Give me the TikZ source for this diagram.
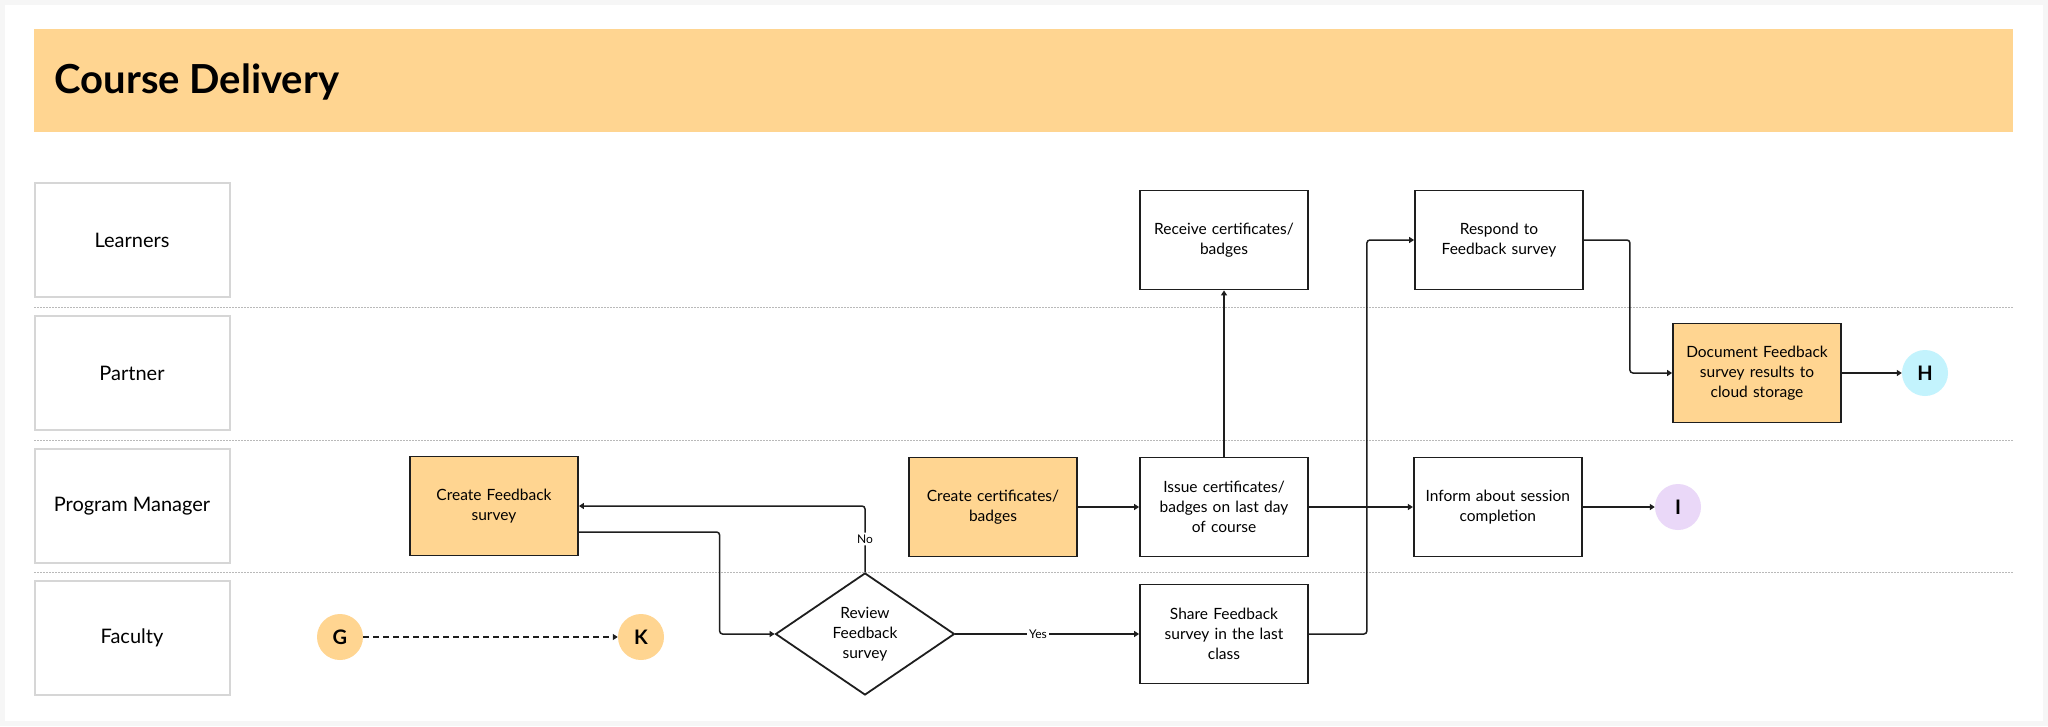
\documentclass[tikz,border=0pt]{standalone}
\usepackage{fontspec}
\setmainfont{Lato}
\usetikzlibrary{arrows.meta, positioning, shapes.geometric, calc}

\definecolor{sheetGray}{HTML}{F6F6F6}
\definecolor{laneGray}{HTML}{D6D6D6}
\definecolor{prepOrange}{HTML}{FFD591}
\definecolor{endCyan}{HTML}{C3F3FD}
\definecolor{endLilac}{HTML}{EAD8F8}
\definecolor{inkBlack}{HTML}{1E1E1E}

\begin{document}
\begin{tikzpicture}[
        x=1pt, y=-1pt,
        laneBox/.style={
            draw=laneGray,
            line width=2pt,
            minimum width=195pt,
            minimum height=114pt,
            font=\fontsize{20}{24}\selectfont
        },
        taskBox/.style={
            draw=inkBlack,
            fill=white,
            line width=1.8pt,
            minimum width=168pt,
            minimum height=99pt,
            text width=154pt,
            align=center,
            font=\fontsize{15.5}{20}\selectfont
        },
        prepBox/.style={
            taskBox,
            fill=prepOrange
        },
        decisionBox/.style={
            diamond,
            draw=inkBlack,
            fill=white,
            line width=1.8pt,
            aspect=1.47,
            inner sep=0pt,
            minimum width=179pt,
            minimum height=122pt,
            align=center,
            font=\fontsize{15.5}{20}\selectfont
        },
        endPoint/.style={
            circle,
            minimum size=46pt,
            inner sep=0pt,
            font=\fontsize{20}{24}\selectfont\bfseries
        },
        flow/.style={
            -{Triangle[length=5pt, width=6pt]},
            line width=1.5pt,
            draw=inkBlack,
            rounded corners=3pt
        },
        answer/.style={
            fill=white,
            inner sep=2pt,
            font=\fontsize{12}{14}\selectfont
        },
        laneRule/.style={
            draw=gray!55,
            line width=1pt,
            dash pattern=on 1.5pt off 1.5pt
        }
    ]

        % Sheet and margins
        \useasboundingbox (0,0) rectangle (2048,726);
        \fill[sheetGray] (0,0) rectangle (2048,726);
        \fill[white] (5,5) rectangle (2043,721);

        % Title bar
        \fill[prepOrange] (34,29) rectangle (2013,132);
        \node[anchor=west, font=\fontsize{40}{48}\selectfont\bfseries]
            (title) at (51,82) {Course Delivery};

        % Lanes
        \node[laneBox] (learners) at (132,240) {Learners};
        \node[laneBox] (partner) at (132,373) {Partner};
        \node[laneBox] (manager) at (132,506) {Program Manager};
        \node[laneBox] (faculty) at (132,638) {Faculty};

        \foreach \rule in {307,440,572}
        {
            \draw[laneRule] (34,\rule) -- (2013,\rule);
        }

        % Program Manager lane
        \node[prepBox] (createSurvey) at (494,506) {Create Feedback\\survey};
        \node[prepBox] (createCerts) at (993,507) {Create certificates/\\badges};
        \node[taskBox] (issueCerts) at (1224,507) {Issue certificates/\\badges on last day\\of course};
        \node[taskBox, right=104pt of issueCerts] (inform) {Inform about session\\completion};
        \node[endPoint, fill=endLilac] (endI) at (1678,507) {I};

        % Learners lane
        \node[taskBox] (receiveCerts) at (1224,240) {Receive certificates/\\badges};
        \node[taskBox] (respond) at (1499,240) {Respond to\\Feedback survey};

        % Partner lane
        \node[prepBox] (document) at (1757,373) {Document Feedback\\survey results to\\cloud storage};
        \node[endPoint, fill=endCyan] (endH) at (1925,373) {H};

        % Faculty lane
        \node[endPoint, fill=prepOrange] (startG) at (340,637) {G};
        \node[endPoint, fill=prepOrange] (startK) at (641,637) {K};
        \node[decisionBox] (review) at (865,634) {Review\\Feedback\\survey};
        \node[taskBox] (share) at (1224,634) {Share Feedback\\survey in the last\\class};

        % Connectors
        \draw[flow, dash pattern=on 6pt off 4pt] (startG) -- (startK);

        \draw[flow]
            ([yshift=-26pt]createSurvey.east)
            -| ($(review.west)+(-55,0)$)
            -- (review.west);

        \draw[flow]
            (review.north)
            |- node[answer, pos=0.25] {No}
            (createSurvey.east);

        \draw[flow]
            (review.east)
            -- node[answer, pos=0.45] {Yes}
            (share.west);

        \draw[flow] (createCerts) -- (issueCerts);
        \draw[flow] (issueCerts) -- (receiveCerts);
        \draw[flow] (issueCerts) -- (inform);
        \draw[flow] (inform) -- (endI);

        \draw[flow]
            (share.east)
            -- ++(58,0)
            |- (respond.west);

        \draw[flow]
            (respond.east)
            -- ++(46,0)
            |- (document.west);

        \draw[flow] (document) -- (endH);

    \end{tikzpicture}
\end{document}
